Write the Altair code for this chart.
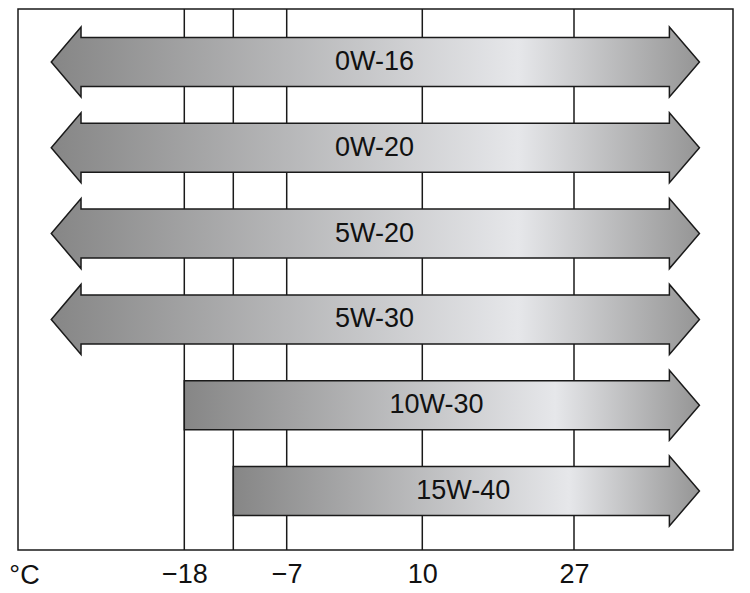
import altair as alt
import pandas as pd

# ---- data ----
grades = ["0W-16", "0W-20", "5W-20", "5W-30", "10W-30", "15W-40"]
low_temp = [-33.2, -33.2, -33.2, -33.2, -18, -12]      # lower end of each arrow (°C)
high_temp = [41.2, 41.2, 41.2, 41.2, 41.2, 41.2]        # upper end of each arrow (°C)
open_low = [True, True, True, True, False, False]       # arrow head at the cold end?
tick_values = [-18, -12, -7, 10, 27]
labeled_ticks = [-18, -7, 10, 27]

# scale break points (piecewise, as drawn in the reference)
scale_domain = [-37, -18, -12, -7, 10, 27, 45]
scale_range = [0, 166.3, 215.3, 268.7, 404.3, 556, 715]

# ---- arrow shape style (in data units) ----
HEAD_LEN = 3.4
BODY_HALF = 0.2855
HEAD_HALF = 0.408
EPS = 0.001

rows = []
texts = []
for i, (g, lo, hi, ol) in enumerate(zip(grades, low_temp, high_temp, open_low)):
    pts = []
    if ol:
        pts.append((lo, i, i))
        pts.append((lo + HEAD_LEN, i - HEAD_HALF, i + HEAD_HALF))
        pts.append((lo + HEAD_LEN + EPS, i - BODY_HALF, i + BODY_HALF))
    else:
        pts.append((lo, i - BODY_HALF, i + BODY_HALF))
    pts.append((hi - HEAD_LEN - EPS, i - BODY_HALF, i + BODY_HALF))
    pts.append((hi - HEAD_LEN, i - HEAD_HALF, i + HEAD_HALF))
    pts.append((hi, i, i))
    for k, (t, a, b) in enumerate(pts):
        rows.append({"grade": g, "idx": k, "t": t, "y": a, "y2": b})
    texts.append({"grade": g, "t": (lo + hi) / 2, "y": i})

area_df = pd.DataFrame(rows)
text_df = pd.DataFrame(texts)
grid_df = pd.DataFrame({"t": tick_values})

FONT = "Liberation Sans"

label_expr = "indexof([" + ",".join(str(v) for v in labeled_ticks) + "], datum.value) < 0 ? '' : (datum.value < 0 ? '\u2212' + abs(datum.value) : '' + datum.value)"

x_axis = alt.Axis(
    values=tick_values,
    labelExpr=label_expr,
    grid=False,
    domain=False, ticks=False,
    labelFont=FONT, labelFontSize=27, labelPadding=11, labelColor="#111111",
    labelFlush=False, labelOverlap=False,
    title="°C", titleX=6, titleY=33, titleAlign="center", titleBaseline="alphabetic",
    titleFont=FONT, titleFontSize=27, titleFontWeight="normal", titleColor="#111111",
)
x_scale = alt.Scale(domain=scale_domain, range=scale_range, nice=False, zero=False)
y_scale = alt.Scale(domain=[-0.618, 5.688], reverse=True, nice=False, zero=False)

gradient = alt.LinearGradient(
    gradient="linear",
    stops=[
        alt.GradientStop(offset=0, color="#868686"),
        alt.GradientStop(offset=0.72, color="#e6e7ea"),
        alt.GradientStop(offset=1, color="#959595"),
    ],
    x1=0, x2=1, y1=0, y2=0,
)

grid = alt.Chart(grid_df).mark_rule(color="#1a1a1a", strokeWidth=1.5).encode(
    x=alt.X("t:Q", scale=x_scale, axis=x_axis),
)

enc = dict(
    x=alt.X("t:Q", scale=x_scale, axis=x_axis, stack=None),
    y=alt.Y("y:Q", scale=y_scale, axis=None, stack=None),
    y2="y2:Q",
    detail="grade:N",
)

underlay = alt.Chart(area_df).mark_area(
    orient="vertical", color="white", opacity=1, fillOpacity=1,
).encode(**enc)

arrows = alt.Chart(area_df).mark_area(
    orient="vertical", fill=gradient, stroke="#1a1a1a", strokeWidth=1.5,
    opacity=1, fillOpacity=1, strokeOpacity=1, strokeJoin="miter",
).encode(**enc)

labels = alt.Chart(text_df).mark_text(
    font=FONT, fontSize=27, color="#111111", baseline="middle", align="center"
).encode(
    x=alt.X("t:Q", scale=x_scale, axis=x_axis),
    y=alt.Y("y:Q", scale=y_scale, axis=None),
    text="grade:N",
)

chart = alt.layer(grid, underlay, arrows, labels).properties(
    width=715, height=541,
    autosize=alt.AutoSizeParams(type="none"),
    padding={"left": 10, "top": 1, "right": 6, "bottom": 40},
    background="white",
).configure_view(stroke="#1a1a1a", strokeWidth=1.5)

chart.save("out.html", embed_options={"renderer": "svg", "actions": False})
